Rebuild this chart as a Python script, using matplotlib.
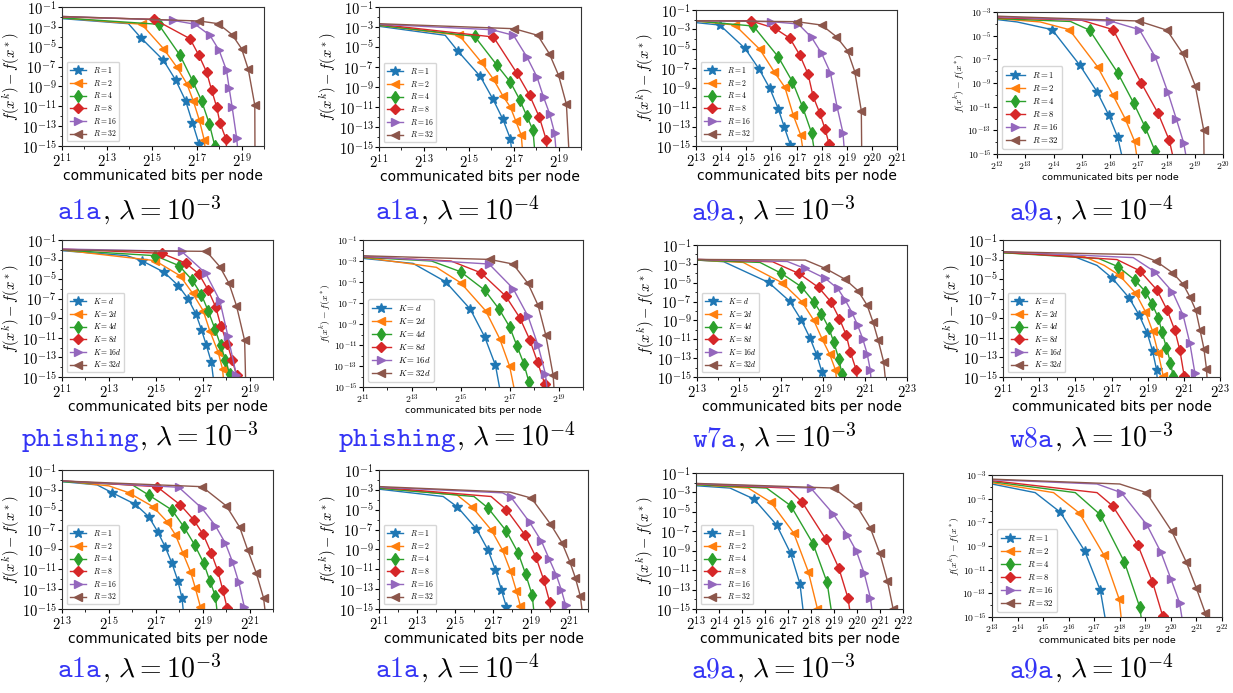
import numpy as np
import matplotlib
matplotlib.use('Agg')
import matplotlib.pyplot as plt
from matplotlib.ticker import NullFormatter
from matplotlib.offsetbox import TextArea, HPacker, AnnotationBbox

plt.rcParams['mathtext.fontset'] = 'cm'

# panel captions
names = ['a1a', 'a1a', 'a9a', 'a9a',
         'phishing', 'phishing', 'w7a', 'w8a',
         'a1a', 'a1a', 'a9a', 'a9a']
lam_exp = [-3, -4, -3, -4, -3, -4, -3, -3, -3, -4, -3, -4]

labels_R = [r'$R=1$', r'$R=2$', r'$R=4$', r'$R=8$', r'$R=16$', r'$R=32$']
labels_K = [r'$K=d$', r'$K=2d$', r'$K=4d$', r'$K=8d$', r'$K=16d$', r'$K=32d$']
label_kind = ['R', 'R', 'R', 'R', 'K', 'K', 'K', 'K', 'R', 'R', 'R', 'R']

# axis ranges: x as log2 exponents, y as log10 exponents
x_range = [(11, 20), (11, 20), (13, 21), (12, 20),
           (11, 20), (11, 20), (13, 23), (11, 23),
           (13, 22), (11, 22), (13, 22), (13, 22)]
x_step = [2, 2, 1, 1, 2, 2, 2, 2, 2, 2, 1, 1]
y_top = [-1, -1, -1, -3, -1, -1, -1, -1, -1, -1, -1, -3]

# each curve: (log2 bits, log10 suboptimality, index of first marked point)
a1a_1e3 = [
    ([11, 13.96, 14.51, 15.52, 16.07, 16.51, 16.81, 17.10, 17.2], [-2.17, -2.68, -4.09, -6.37, -8.38, -10.46, -12.64, -14.76, -17], 2),
    ([11, 14.55, 15.52, 16.11, 16.56, 16.85, 17.12, 17.34, 17.45], [-2.1, -2.74, -5.19, -7.04, -8.72, -10.46, -12.41, -14.42, -17], 1),
    ([11, 15.3, 16.26, 16.82, 17.22, 17.56, 17.81, 17.9], [-2.1, -2.74, -5.87, -8.45, -10.46, -12.74, -15.0, -17], 1),
    ([11, 15.1, 16.7, 17.1, 17.44, 17.67, 17.89, 18.04, 18.3, 18.4], [-2.0, -2.24, -4.19, -5.87, -7.54, -9.39, -11.07, -12.68, -14.26, -17], 1),
    ([11, 15.93, 16.93, 17.59, 18.0, 18.33, 18.45, 18.58, 18.78, 18.9], [-1.95, -2.34, -2.74, -3.85, -5.36, -7.38, -9.2, -11.07, -14.19, -17], 1),
    ([11, 17.12, 17.96, 18.58, 19.0, 19.3, 19.59, 19.6], [-1.95, -2.41, -2.68, -3.79, -5.19, -7.28, -10.9, -17], 1),
]
a1a_1e4 = [
    ([11, 13.95, 14.51, 15.51, 16.08, 16.52, 16.85, 17.0], [-2.93, -3.83, -5.4, -7.93, -10.23, -12.23, -14.17, -17], 2),
    ([11, 14.57, 15.55, 16.1, 16.52, 16.85, 17.1, 17.34, 17.45], [-2.83, -3.83, -6.5, -8.23, -9.9, -11.0, -12.43, -13.83, -17], 1),
    ([11, 15.26, 16.26, 16.85, 17.27, 17.59, 17.86, 18.0], [-2.83, -3.93, -6.83, -8.5, -10.27, -11.93, -13.33, -17], 1),
    ([11, 16.1, 17.14, 17.71, 18.14, 18.45, 18.55], [-2.73, -4.0, -7.6, -9.83, -12.0, -14.27, -17], 1),
    ([11, 16.03, 16.99, 17.59, 18.04, 18.33, 18.6, 18.82, 18.95], [-2.73, -3.27, -3.83, -6.0, -8.0, -10.0, -11.67, -13.57, -17], 1),
    ([11, 17.02, 18.07, 18.59, 19.0, 19.35, 19.5], [-2.67, -3.17, -3.83, -5.67, -7.83, -10.73, -17], 1),
]
a9a_1e3 = [
    ([13, 13.95, 14.95, 15.52, 15.94, 16.27, 16.51, 16.76, 16.85], [-2.3, -2.55, -4.95, -7.12, -9.08, -11.14, -13.03, -14.9, -17], 1),
    ([13, 14.55, 15.54, 16.11, 16.54, 16.87, 17.17, 17.35], [-2.13, -2.55, -5.05, -7.36, -8.97, -11.82, -13.89, -17], 1),
    ([13, 15.28, 16.27, 16.84, 17.24, 17.6, 17.8], [-2.13, -2.65, -5.81, -8.39, -10.97, -13.65, -17], 1),
    ([13, 15.17, 16.14, 16.74, 17.13, 17.46, 17.66, 17.93, 18.13, 18.3, 18.35], [-2.1, -2.1, -2.89, -3.92, -5.64, -7.6, -9.87, -11.65, -13.2, -14.81, -17], 1),
    ([13, 16.0, 17.07, 17.6, 18.0, 18.35, 18.62, 18.85, 18.95], [-2.1, -2.2, -2.44, -3.82, -5.47, -7.46, -11.03, -13.65, -17], 1),
    ([13, 17.0, 18.0, 18.59, 19.03, 19.32, 19.58, 19.6], [-2.1, -2.2, -2.55, -3.75, -5.19, -7.36, -11.38, -17], 1),
]
a9a_1e4 = [
    ([12, 12.71, 13.95, 14.93, 15.54, 15.95, 16.27, 16.5], [-3.64, -3.84, -4.49, -7.49, -9.73, -11.69, -13.57, -16], 2),
    ([12, 13.53, 14.56, 15.56, 16.1, 16.54, 16.87, 17.0], [-3.56, -3.84, -4.49, -7.63, -10.01, -12.03, -13.93, -16], 2),
    ([12, 14.6, 15.28, 16.27, 16.84, 17.25, 17.6, 17.7], [-3.56, -3.8, -4.54, -8.13, -10.71, -12.76, -14.77, -16], 2),
    ([12, 15.0, 16.11, 17.1, 17.7, 18.1, 18.3], [-3.48, -3.7, -4.49, -8.97, -11.55, -13.85, -16], 2),
    ([12, 16.01, 17.04, 17.6, 18.04, 18.35, 18.61, 18.75], [-3.4, -3.76, -4.49, -6.78, -9.73, -12.06, -14.07, -16], 1),
    ([12, 17.01, 18.02, 18.57, 19.02, 19.32, 19.33], [-3.35, -3.76, -4.54, -6.5, -9.25, -13.01, -16], 1),
]
phishing_1e3 = [
    ([11, 13.76, 14.4, 15.36, 15.96, 16.38, 16.71, 16.95, 17.16, 17.37, 17.55], [-2.09, -2.6, -3.11, -4.3, -5.66, -7.02, -8.55, -10.18, -11.78, -13.48, -17], 2),
    ([11, 14.97, 16.03, 16.57, 17.02, 17.3, 17.66, 17.85, 17.95], [-2.02, -3.11, -4.64, -6.44, -8.21, -10.25, -12.46, -14.2, -17], 1),
    ([11, 14.97, 15.99, 16.55, 16.95, 17.23, 17.52, 17.77, 17.97, 18.15, 18.25], [-2.02, -2.6, -3.62, -5.08, -6.61, -8.21, -10.08, -11.78, -13.24, -14.67, -17], 1),
    ([11, 15.25, 16.27, 16.84, 17.23, 17.56, 17.77, 18.05, 18.25, 18.45, 18.5], [-1.92, -2.36, -3.35, -4.47, -6.1, -7.87, -9.74, -11.61, -13.24, -14.8, -17], 1),
    ([11, 16.1, 17.13, 17.73, 18.08, 18.44, 18.5], [-1.92, -2.16, -4.4, -7.19, -10.86, -14.84, -17], 1),
    ([11, 17.16, 17.73, 18.12, 18.44, 18.79, 18.85], [-2.02, -2.16, -3.72, -5.42, -7.7, -11.27, -17], 1),
]
phishing_1e4 = [
    ([11, 13.05, 14.38, 15.39, 15.98, 16.42, 16.7], [-2.75, -3.23, -4.98, -7.59, -10.24, -12.94, -16.5], 2),
    ([11, 14.0, 15.0, 16.02, 16.59, 17.0, 17.3], [-2.65, -3.6, -5.08, -7.75, -10.39, -13.04, -16.5], 2),
    ([11, 13.8, 15.0, 15.98, 16.57, 17.0, 17.3, 17.58, 17.79, 17.9], [-2.65, -3.0, -4.03, -5.78, -7.59, -9.28, -11.1, -12.78, -14.54, -16.5], 2),
    ([11, 14.6, 15.82, 16.84, 17.41, 17.82, 18.14, 18.44, 18.5], [-2.6, -3.0, -4.12, -6.35, -8.39, -10.49, -12.62, -14.76, -16.5], 2),
    ([11, 16.16, 17.14, 17.75, 18.16, 18.46, 18.6], [-2.55, -3.29, -5.62, -8.26, -11.03, -13.74, -16.5], 1),
    ([11, 16.18, 17.14, 17.75, 18.16, 18.48, 18.78, 18.85], [-2.5, -2.85, -3.29, -5.14, -7.21, -10.08, -13.9, -16.5], 1),
]
w7a_1e3 = [
    ([13, 14.27, 16.41, 17.41, 17.97, 18.37, 18.71, 18.95, 19.1], [-2.6, -2.77, -4.97, -6.96, -8.98, -10.82, -12.7, -14.48, -17], 2),
    ([13, 15.2, 17.05, 18.0, 18.56, 18.95, 19.32, 19.59, 19.75], [-2.6, -2.85, -5.0, -7.03, -8.98, -10.93, -12.6, -14.23, -17], 2),
    ([13, 16.0, 17.02, 17.97, 18.56, 18.92, 19.27, 19.51, 19.75, 19.9, 20.0], [-2.6, -2.85, -4.01, -5.43, -7.03, -8.27, -9.76, -11.28, -13.06, -14.65, -17], 2),
    ([13, 16.6, 17.84, 18.79, 19.38, 19.78, 20.11, 20.3, 20.59, 20.7], [-2.53, -2.78, -4.01, -5.5, -7.03, -8.8, -10.57, -12.35, -14.3, -17], 2),
    ([13, 17.3, 18.13, 19.11, 19.7, 20.06, 20.38, 20.65, 20.89, 21.1, 21.25, 21.35], [-2.53, -2.75, -3.48, -4.55, -5.61, -6.85, -8.16, -9.51, -10.93, -12.52, -14.23, -17], 2),
    ([13, 18.16, 19.11, 20.06, 20.67, 21.1, 21.38, 21.62, 21.89, 22.05], [-2.53, -2.6, -3.48, -4.65, -5.86, -7.38, -9.16, -11.04, -13.41, -17], 2),
]
w8a_1e3 = [
    ([11, 14.8, 16.2, 17.05, 17.97, 18.53, 18.97, 19.27, 19.49, 19.6], [-2.3, -2.6, -3.6, -4.92, -6.9, -8.68, -10.49, -12.33, -14.24, -17], 3),
    ([11, 15.5, 16.6, 17.42, 18.32, 18.88, 19.27, 19.58, 19.86, 19.95], [-2.3, -2.7, -3.6, -4.58, -6.39, -8.34, -10.32, -12.54, -14.89, -17], 3),
    ([11, 16.3, 17.37, 18.29, 18.88, 19.25, 19.58, 19.8, 20.04, 20.26, 20.41, 20.5], [-2.3, -2.9, -3.73, -5.1, -6.29, -7.55, -8.92, -10.45, -12.02, -13.53, -14.89, -17], 2),
    ([11, 17.3, 18.56, 19.52, 20.08, 20.5, 20.78, 21.02, 21.1], [-2.25, -3.0, -4.14, -6.12, -8.17, -10.22, -12.26, -14.89, -17], 2),
    ([11, 18.2, 19.39, 20.37, 20.96, 21.33, 21.61, 21.7], [-2.2, -2.8, -4.24, -6.29, -8.68, -11.51, -14.58, -17], 2),
    ([11, 18.56, 19.45, 20.37, 20.96, 21.33, 21.66, 21.89, 22.11, 22.25, 22.35], [-2.2, -2.5, -3.15, -4.34, -5.51, -6.8, -8.17, -10.15, -12.09, -14.14, -17], 2),
]
a1a_1e3_b = [
    ([13, 14.5, 15.13, 16.13, 16.7, 17.08, 17.41, 17.69, 17.94, 18.12, 18.25], [-2.17, -2.5, -3.28, -4.46, -5.7, -7.21, -8.79, -10.4, -12.14, -13.92, -17], 2),
    ([13, 15.0, 15.84, 16.88, 17.48, 17.84, 18.16, 18.48, 18.69, 18.9, 19.0], [-2.1, -2.6, -3.28, -4.69, -6.2, -7.54, -9.39, -11.23, -12.91, -14.76, -17], 2),
    ([13, 16.0, 16.7, 17.69, 18.19, 18.66, 19.05, 19.3, 19.54, 19.7], [-2.17, -2.5, -3.52, -5.03, -6.7, -8.55, -10.4, -12.14, -13.68, -17], 2),
    ([13, 17.05, 18.05, 18.62, 19.02, 19.36, 19.64, 19.86, 20.04, 20.1], [-2.1, -2.68, -4.52, -6.03, -7.48, -9.32, -11.13, -13.08, -14.86, -17], 1),
    ([13, 17.98, 18.97, 19.54, 19.97, 20.28, 20.54, 20.78, 20.85], [-2.1, -2.74, -4.86, -6.6, -8.38, -10.3, -12.31, -14.83, -17], 1),
    ([13, 18.97, 20.01, 20.58, 20.92, 21.29, 21.6, 21.75], [-2.1, -2.68, -4.62, -6.77, -9.05, -11.4, -13.92, -17], 1),
]
a1a_1e4_b = [
    ([11, 14.38, 15.13, 16.13, 16.74, 17.13, 17.44, 17.71, 17.8], [-2.93, -3.67, -4.73, -6.93, -9.07, -11.07, -13.07, -14.83, -17], 2),
    ([11, 15.1, 15.9, 16.92, 17.5, 17.92, 18.23, 18.44, 18.55], [-2.83, -3.5, -4.73, -7.07, -9.07, -11.17, -13.17, -14.67, -17], 2),
    ([11, 16.0, 16.74, 17.71, 18.32, 18.72, 19.06, 19.25], [-2.83, -3.67, -4.83, -7.17, -9.33, -11.5, -13.6, -17], 2),
    ([11, 16.9, 17.71, 18.67, 19.25, 19.67, 19.98, 20.1], [-2.73, -3.67, -5.0, -7.5, -9.73, -12.07, -14.27, -17], 2),
    ([11, 17.5, 17.94, 18.93, 19.55, 19.95, 20.33, 20.6, 20.82, 20.95], [-2.73, -3.3, -3.73, -6.27, -8.17, -9.93, -11.57, -13.1, -14.6, -17], 2),
    ([11, 17.9, 19.02, 20.02, 20.63, 21.04, 21.33, 21.6, 21.8], [-2.67, -3.23, -3.83, -6.43, -8.33, -10.23, -11.83, -13.73, -17], 2),
]
a9a_1e3_b = [
    ([13, 14.48, 15.52, 16.5, 17.11, 17.52, 17.75], [-2.31, -2.55, -3.68, -6.33, -9.25, -12.41, -17], 2),
    ([13, 15.27, 16.26, 17.25, 17.88, 18.28, 18.35], [-2.2, -2.55, -4.02, -7.19, -11.14, -14.99, -17], 2),
    ([13, 16.07, 17.12, 18.09, 18.7, 19.0], [-2.2, -2.55, -4.37, -8.29, -12.27, -17], 2),
    ([13, 16.99, 17.62, 18.64, 19.21, 19.61, 19.8], [-2.13, -2.55, -4.02, -7.8, -10.79, -13.89, -17], 2),
    ([13, 17.99, 18.96, 19.58, 19.98, 20.31, 20.58, 20.75], [-2.1, -2.55, -5.19, -7.36, -9.08, -11.31, -13.82, -17], 1),
    ([13, 18.99, 20.0, 20.58, 20.99, 21.32, 21.57, 21.65], [-2.07, -2.55, -4.44, -6.67, -9.25, -12.07, -14.99, -17], 1),
]
a9a_1e4_b = [
    ([13, 14.69, 15.67, 16.62, 17.24, 17.5], [-3.76, -4.49, -6.14, -9.39, -12.76, -16], 2),
    ([13, 15.41, 16.42, 17.37, 17.98, 18.1], [-3.65, -4.49, -6.22, -9.73, -13.51, -16], 2),
    ([13, 16.26, 17.24, 18.18, 18.78, 18.9], [-3.56, -4.49, -6.36, -10.35, -14.16, -16], 2),
    ([13, 17.11, 17.72, 18.7, 19.28, 19.68, 19.72], [-3.48, -4.49, -5.61, -8.89, -12.03, -14.92, -16], 2),
    ([13, 17.11, 18.06, 19.06, 19.61, 20.0, 20.34, 20.5], [-3.4, -3.76, -4.49, -7.21, -9.53, -11.78, -13.79, -16], 2),
    ([13, 18.0, 19.04, 20.04, 20.6, 20.99, 21.34, 21.45], [-3.35, -3.76, -4.49, -7.77, -10.35, -12.53, -14.63, -16], 2),
]

panels = [a1a_1e3, a1a_1e4, a9a_1e3, a9a_1e4,
          phishing_1e3, phishing_1e4, w7a_1e3, w8a_1e3,
          a1a_1e3_b, a1a_1e4_b, a9a_1e3_b, a9a_1e4_b]

colors = ['#1f77b4', '#ff7f0e', '#2ca02c', '#d62728', '#9467bd', '#8c564b']
markers = ['*', '<', 'd', 'D', '>', '<']
msizes = [7, 6, 6, 5.5, 6, 6]

# axes boxes in pixels (left, top, right, bottom) measured from the top-left
W, H = 1233, 693
boxes = [(62, 7, 264, 146), (379, 7, 581, 147), (696, 10, 897, 146), (997, 12, 1223, 154),
         (62, 240, 273, 377), (363, 240, 583, 387), (697, 245, 907, 377), (1003, 240, 1220, 377),
         (62, 470, 273, 609), (379, 470, 588, 609), (696, 473, 903, 609), (992, 475, 1222, 617)]
small = [False, False, False, True, False, True, False, False, False, False, False, True]
cap_pos = [(139, 210), (457, 210), (773, 210), (1091, 210),
           (140, 437), (457, 437), (774, 437), (1091, 437),
           (139, 668), (457, 668), (773, 668), (1091, 668)]

fig = plt.figure(figsize=(W / 100, H / 100), dpi=100)

for i in range(12):
    l, t, r, b = boxes[i]
    wpx, hpx = r - l, b - t
    ax = fig.add_axes([l / W, 1 - b / H, wpx / W, hpx / H])
    ax.set_xscale('log', base=2)
    ax.set_yscale('log')
    tfs = 7 if small[i] else 10.5
    lfs = 6.8 if small[i] else 10
    labs = labels_R if label_kind[i] == 'R' else labels_K
    for j, (xs, ys, k) in enumerate(panels[i]):
        ax.plot(2.0 ** np.array(xs), 10.0 ** np.array(ys), color=colors[j], lw=1.0,
                marker=markers[j], ms=msizes[j], markevery=list(range(k, len(xs))),
                label=labs[j])
    x0, x1 = x_range[i]
    ax.set_xlim(2.0 ** x0, 2.0 ** x1)
    ax.set_ylim(1e-15, 10.0 ** y_top[i])
    xmaj = list(range(x0, x1 + 1, x_step[i]))
    ax.set_xticks([2.0 ** e for e in xmaj], [r'$2^{%d}$' % e for e in xmaj])
    ax.set_xticks([2.0 ** e for e in range(x0, x1 + 1) if e not in xmaj], minor=True)
    ymaj = list(range(y_top[i], -16, -2))
    ax.set_yticks([10.0 ** e for e in ymaj], [r'$10^{%d}$' % e for e in ymaj])
    ax.set_yticks([10.0 ** e for e in range(y_top[i] - 1, -15, -2)], minor=True)
    ax.xaxis.set_minor_formatter(NullFormatter())
    ax.yaxis.set_minor_formatter(NullFormatter())
    ax.tick_params(which='major', labelsize=tfs, length=3, pad=1)
    ax.tick_params(which='minor', length=1.8)
    for sp in ax.spines.values():
        sp.set_color('#333333')
    ax.set_xlabel('communicated bits per node', fontsize=lfs, labelpad=0)
    ax.set_ylabel(r'$f(x^k)-f(x^*)$', fontsize=7 if small[i] else 10.5, labelpad=0)
    ax.legend(loc='lower left', fontsize=6.3 if small[i] else 5.5,
              handlelength=2.2, labelspacing=0.35, borderaxespad=0.6, borderpad=0.4)

    name = TextArea(r'$\mathtt{%s}$' % names[i], textprops=dict(color='#3434f5', fontsize=20))
    rest = TextArea(r'$,\,\lambda=10^{%d}$' % lam_exp[i], textprops=dict(color='black', fontsize=20))
    pack = HPacker(children=[name, rest], sep=0, pad=0, align='baseline')
    cx, cy = cap_pos[i]
    ab = AnnotationBbox(pack, (cx, H - cy), xycoords='figure pixels', frameon=False,
                        box_alignment=(0.5, 0.5))
    fig.add_artist(ab)

fig.savefig('out.png', dpi=100)
